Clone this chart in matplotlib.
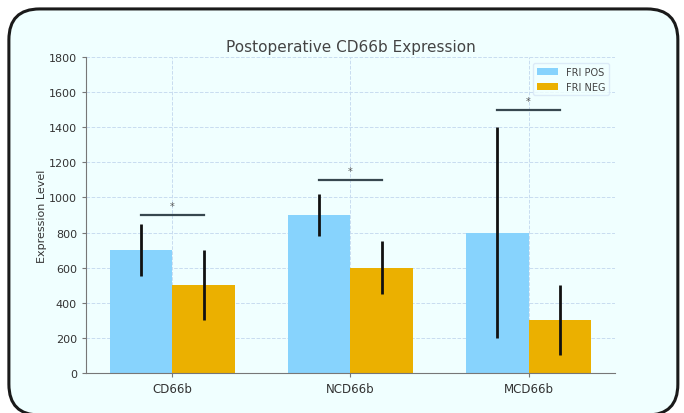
import numpy as np
import matplotlib
matplotlib.use('Agg')
import matplotlib.pyplot as plt
from matplotlib.patches import FancyBboxPatch

categories = ['CD66b', 'NCD66b', 'MCD66b']
pos_vals = [700, 900, 800]
pos_err = [150, 120, 600]
neg_vals = [500, 600, 300]
neg_err = [200, 150, 200]
sig_levels = [900, 1100, 1500]
sig_marks = ['*', '*', '*']

bg = '#f0ffff'
fig = plt.figure(figsize=(6.84, 4.14), dpi=100)
fig.patch.set_facecolor('white')

# rounded frame, bottom edge runs off the image
frame = FancyBboxPatch((0.013, -0.005), 0.978, 0.981, boxstyle='round,pad=0,rounding_size=0.045',
                       transform=fig.transFigure, facecolor=bg, edgecolor='#1a1a1a',
                       linewidth=2.2, mutation_aspect=684 / 414, zorder=-5)
fig.patches.append(frame)

ax = fig.add_axes([0.1257, 0.0966, 0.7733, 0.7634])
ax.set_zorder(1)
ax.set_facecolor(bg)

x = np.arange(len(categories))
w = 0.35
ax.bar(x - w / 2, pos_vals, w, yerr=pos_err, color='#87d3fd', label='FRI POS',
       error_kw=dict(ecolor='#111111', elinewidth=2, capsize=0), zorder=2)
ax.bar(x + w / 2, neg_vals, w, yerr=neg_err, color='#ebb000', label='FRI NEG',
       error_kw=dict(ecolor='#111111', elinewidth=2, capsize=0), zorder=2)

for i, (lvl, m) in enumerate(zip(sig_levels, sig_marks)):
    ax.plot([x[i] - w / 2, x[i] + w / 2], [lvl, lvl], color='#37474f', lw=1.6, zorder=3)
    ax.text(x[i], lvl + 20, m, ha='center', va='bottom', fontsize=7, color='#555555')

ax.set_ylim(0, 1800)
ax.set_yticks(range(0, 1801, 200))
ax.set_xticks(x)
ax.set_xticklabels(categories)
ax.set_title('Postoperative CD66b Expression', fontsize=11, color='#444444', pad=4)
ax.set_ylabel('Expression Level', fontsize=8, color='#333333', labelpad=1)

ax.grid(True, color='#c8dcf0', linestyle='--', linewidth=0.7, zorder=0)
ax.set_axisbelow(True)
for s in ['top', 'right']:
    ax.spines[s].set_visible(False)
for s in ['left', 'bottom']:
    ax.spines[s].set_color('#777777')
ax.tick_params(colors='#777777', labelcolor='#333333', labelsize=8, length=3)
ax.tick_params(axis='x', labelsize=8.5)

leg = ax.legend(loc='upper right', fontsize=7, frameon=True, handlelength=2.2,
                borderaxespad=0.6)
leg.get_frame().set_facecolor(bg)
leg.get_frame().set_edgecolor('#d8e6f5')
for t in leg.get_texts():
    t.set_color('#444444')

fig.savefig('out.png', dpi=100, facecolor=fig.get_facecolor())
